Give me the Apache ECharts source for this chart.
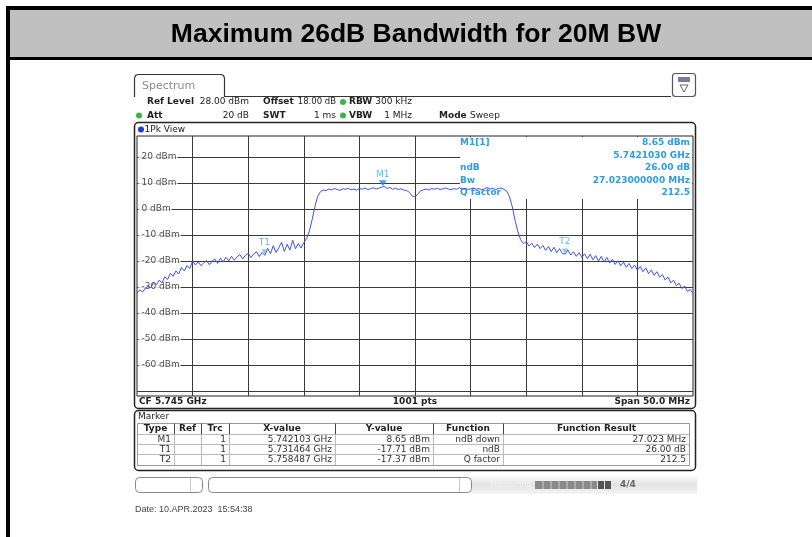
<!DOCTYPE html>
<html><head><meta charset="utf-8">
<script src="https://cdn.jsdelivr.net/npm/echarts@6/dist/echarts.min.js"></script>
<style>html,body{margin:0;padding:0;background:#fff;}#c{width:812px;height:537px;}</style>
</head><body><div id="c"></div>
<script>
// ---- data ----
const startMHz = 5720, stopMHz = 5770, stepMHz = 0.25;   // sweep: CF 5.745 GHz, span 50 MHz
const traceLevels = [
-32.4,-31.2,-32.0,-30.5,-29.8,-30.4,-28.3,-29.2,-27.4,-28.5,
-26.1,-27.2,-24.8,-26.0,-23.9,-25.1,-22.6,-23.9,-21.8,-23.0,
-20.1,-21.6,-20.4,-21.9,-20.8,-19.9,-21.5,-20.2,-19.3,-21.0,
-19.0,-20.4,-18.6,-20.0,-18.3,-19.8,-18.5,-17.6,-19.3,-17.9,
-17.1,-18.8,-17.3,-16.5,-18.4,-16.8,-17.9,-15.2,-17.3,-14.2,
-16.8,-15.0,-12.8,-16.4,-13.6,-15.9,-12.1,-15.4,-13.4,-15.1,
-13.0,-11.5,-8.6,-4.2,0.9,4.8,6.6,7.2,7.0,7.6,
7.3,7.8,7.4,7.1,7.7,7.5,7.9,7.3,7.6,7.2,
7.8,7.5,8.0,7.4,7.7,8.1,7.6,7.9,8.3,8.6,
7.8,8.2,7.5,7.9,7.4,7.7,7.2,7.0,6.3,4.9,
4.6,5.6,6.9,7.3,7.6,7.2,7.8,7.5,7.9,7.4,
7.7,8.0,7.6,7.3,7.8,7.5,8.1,7.6,7.9,7.4,
7.7,8.0,7.5,7.8,7.3,7.7,8.2,7.6,7.9,7.4,
7.8,8.0,7.5,6.8,4.6,0.7,-4.5,-8.8,-11.9,-13.4,
-12.6,-14.3,-13.2,-14.9,-13.6,-15.3,-14.1,-16.0,-14.5,-16.5,
-14.8,-16.9,-15.3,-17.2,-17.4,-15.8,-17.8,-16.5,-18.3,-16.9,
-18.7,-17.3,-19.2,-17.5,-19.6,-18.0,-20.1,-18.3,-20.5,-18.7,
-20.9,-19.4,-21.4,-20.0,-21.9,-20.5,-22.5,-21.0,-23.0,-21.6,
-23.6,-22.2,-24.2,-22.7,-24.9,-23.5,-25.6,-24.2,-26.3,-25.3,
-27.4,-26.2,-28.5,-27.4,-29.6,-28.6,-30.7,-29.7,-31.8,-31.0,
-32.6];
const refLevel = 28, bottomLevel = -72;
const gridLevels = [20,10,0,-10,-20,-30,-40,-50,-60,-70];
const gridFreqs = [5725,5730,5735,5740,5745,5750,5755,5760,5765];
const yLabelLevels = [20,10,0,-10,-20,-30,-40,-50,-60];
const yLabels = ['20 dBm','10 dBm','0 dBm','-10 dBm','-20 dBm','-30 dBm','-40 dBm','-50 dBm','-60 dBm'];
const markerNames = ['M1','T1','T2'];
const markerFreqMHz = [5742.103, 5731.464, 5758.487];
const markerLevels = [8.65, -17.71, -17.37];
const markerXText = ['5.742103 GHz','5.731464 GHz','5.758487 GHz'];
const markerYText = ['8.65 dBm','-17.71 dBm','-17.37 dBm'];
const markerFunc = ['ndB down','ndB','Q factor'];
const markerResult = ['27.023 MHz','26.00 dB','212.5'];
const infoLeft = ['M1[1]','','ndB','Bw','Q factor'];
const infoRight = ['8.65 dBm','5.7421030 GHz','26.00 dB','27.023000000 MHz','212.5'];

// ---- chart ----
const chart = echarts.init(document.getElementById('c'), null, {renderer:'canvas'});
const F = 'DejaVu Sans';
const G = [];
function txt(x,y,t,o){o=o||{};const a=o.a||'left';G.push({type:'text',z:o.z||3,zlevel:o.zl||0,style:{text:t,x:x,y:y,fill:o.c||'#222',
  font:(o.b?'bold ':'')+(o.s||9)+'px '+(o.f||F),textAlign:a,align:a,textVerticalAlign:'middle',verticalAlign:'middle'}});}
function rect(x,y,w,h,o){o=o||{};G.push({type:'rect',z:o.z||0,zlevel:o.zl||0,shape:{x:x,y:y,width:w,height:h,r:o.r||0},
  style:{fill:o.fill||'none',stroke:o.stroke||null,lineWidth:o.lw||1}});}
function line(x1,y1,x2,y2,o){o=o||{};G.push({type:'line',z:o.z||3,shape:{x1:x1,y1:y1,x2:x2,y2:y2},
  style:{stroke:o.c||'#222',lineWidth:o.lw||1}});}
function dot(x,y,r,c){G.push({type:'circle',z:3,shape:{cx:x,cy:y,r:r},style:{fill:c}});}

// page frame
rect(6,6,806,531,{fill:'#000'});
rect(10,10,802,47,{fill:'#c0c0c0'});
rect(10,60,802,477,{fill:'#fff'});
txt(416,35,'Maximum 26dB Bandwidth for 20M BW',{b:1,s:26.5,f:'Liberation Sans',c:'#000',a:'center'});
// spectrum tab
G.push({type:'polyline',z:3,shape:{points:[[134.5,97],[134.5,78],[135.5,75.5],[138,74.5],[221,74.5],[223.5,75.5],[224.5,78],[224.5,96.5],[671,96.5]]},style:{fill:null,stroke:'#333',lineWidth:1.2}});
txt(142,86,'Spectrum',{s:11,c:'#8a8a8a'});
rect(672.5,73.5,23,23,{r:3,stroke:'#555',lw:1.2,z:3});
rect(678,77,12,5,{fill:'#7a7a9a',z:3});
G.push({type:'polygon',z:3,shape:{points:[[680,85],[688,85],[684,92]]},style:{fill:'#fff',stroke:'#666',lineWidth:1}});
// header rows
txt(147,102,'Ref Level',{b:1});txt(249,102,'28.00 dBm',{a:'right'});
txt(263,102,'Offset',{b:1});txt(336,102,'18.00 dB',{a:'right',s:8.5});
dot(343,102,3,'#3cb44b');txt(349,102,'RBW',{b:1});txt(412,102,'300 kHz',{a:'right'});
dot(139,115.5,3,'#3cb44b');txt(147,115.5,'Att',{b:1});txt(249,115.5,'20 dB',{a:'right'});
txt(263,115.5,'SWT',{b:1});txt(336,115.5,'1 ms',{a:'right'});
dot(343,115.5,3,'#3cb44b');txt(349,115.5,'VBW',{b:1});txt(412,115.5,'1 MHz',{a:'right'});
txt(439,115.5,'Mode',{b:1});txt(470,115.5,'Sweep');
// 1Pk view box
rect(134.5,122.5,561,286,{r:4,stroke:'#222',lw:1.5,z:3});
dot(141,129.5,3,'#1a3ccc');txt(144.5,129.5,'1Pk View');
txt(139,402,'CF 5.745 GHz',{b:1});txt(415,402,'1001 pts',{b:1,a:'center'});txt(690,402,'Span 50.0 MHz',{b:1,a:'right'});
// info box (covers grid) on its own layer
rect(460,137,232,62,{fill:'#fff',zl:1});
const infoC = '#2c9ce6';
infoLeft.forEach((t,i)=>{ if(t) txt(460,143+i*12.4,t,{b:1,c:infoC,zl:1}); });
infoRight.forEach((t,i)=>{ txt(690,143+i*12.4,t,{b:1,c:infoC,a:'right',zl:1}); });
// marker table
rect(134.5,410.5,561,60,{r:4,stroke:'#222',lw:1.5,z:3});
txt(138,416.5,'Marker',{b:0});
const colX = [137,174,201,229,335,433,503,690];
rect(137.5,423.5,552,42,{stroke:'#999',z:3});
[434.5,444.5,454.5].forEach(y=>line(137.5,y,689.5,y,{c:'#bbb'}));
colX.slice(1,7).forEach(x=>{line(x+0.5,423.5,x+0.5,434.5,{c:'#444'});line(x+0.5,434.5,x+0.5,465.5,{c:'#bbb'});});
const heads = ['Type','Ref','Trc','X-value','Y-value','Function','Function Result'];
heads.forEach((h,i)=>txt((colX[i]+colX[i+1])/2,429,h,{b:1,a:'center'}));
markerNames.forEach((m,i)=>{
  const y = 439.5+i*10;
  txt(171,y,m,{a:'right',c:'#333'});
  txt(226,y,'1',{a:'right',c:'#333'});
  txt(332,y,markerXText[i],{a:'right',c:'#333'});
  txt(430,y,markerYText[i],{a:'right',c:'#333'});
  txt(500,y,markerFunc[i],{a:'right',c:'#333'});
  txt(686,y,markerResult[i],{a:'right',c:'#333'});
});
// status bar
G.push({type:'rect',z:1,shape:{x:472,y:475,width:225,height:19},style:{fill:new echarts.graphic.LinearGradient(0,0,0,1,[{offset:0,color:'#ffffff'},{offset:0.5,color:'#e2e2e2'},{offset:1,color:'#f4f4f4'}])}});
rect(135.5,477.5,67,15,{r:4,stroke:'#888',z:3});line(190.5,478,190.5,492,{c:'#ccc'});
rect(208.5,477.5,263,15,{r:4,stroke:'#888',z:3});line(459.5,478,459.5,492,{c:'#ccc'});
txt(490,485,'Measuring...',{c:'#f2f2f2',s:8});
rect(535,481,62,8,{fill:'#8a8a8a',z:3});
[543,551,559,567,575,583,591].forEach(x=>line(x,481,x,489,{c:'#c8c8c8'}));
rect(598,481,6,8,{fill:'#555',z:3});rect(605,481,6,8,{fill:'#555',z:3});
txt(620,485,'4/4',{b:1,c:'#666',s:9});
txt(135,510,'Date: 10.APR.2023  15:54:38',{f:'Liberation Sans',c:'#444',s:9});

const traceData = traceLevels.map((v,i)=>[startMHz + i*stepMHz, v]);
const option = {
  animation:false,
  grid:{left:137,top:136,width:556,height:260,show:true,borderColor:'#222',borderWidth:1,backgroundColor:'transparent',z:1},
  xAxis:{type:'value',min:startMHz,max:stopMHz,axisLine:{show:false},axisTick:{show:false},axisLabel:{show:false},splitLine:{show:false}},
  yAxis:{type:'value',min:bottomLevel,max:refLevel,axisLine:{show:false},axisTick:{show:false},axisLabel:{show:false},splitLine:{show:false}},
  graphic:{elements:G},
  series:[
    {type:'line',z:1,data:[],silent:true,
     markLine:{silent:true,symbol:['none','none'],animation:false,label:{show:false},
       lineStyle:{color:'#3a3a3a',width:1,type:'solid'},
       data:gridLevels.map(v=>({yAxis:v})).concat(gridFreqs.map(f=>({xAxis:f})))}},
    {type:'scatter',zlevel:1,z:3,silent:true,symbolSize:1,itemStyle:{color:'rgba(0,0,0,0)'},
     data:yLabelLevels.map(v=>[startMHz,v]),
     label:{show:true,position:'right',distance:1,formatter:p=>yLabels[p.dataIndex],
       color:'#222',fontSize:9,fontFamily:F,backgroundColor:'#fff',padding:[1,1,0,3]}},
    {type:'line',zlevel:2,z:5,data:traceData,showSymbol:false,symbol:'none',
     lineStyle:{color:'#3d50f2',width:1},clip:true},
    {type:'scatter',zlevel:2,z:6,silent:true,
     data:markerNames.map((n,i)=>({value:[markerFreqMHz[i],markerLevels[i]],
        symbol:'triangle',symbolRotate:180,symbolSize:i===0?[8,6]:[6,5],symbolOffset:[0,-3],
        itemStyle:{color:i===0?'#1d8fe0':'#6bbcf0'},
        label:{show:true,position:'top',distance:i===0?1:2,formatter:n,color:'#3aa6ee',fontSize:9,fontFamily:F}}))}
  ]
};
chart.setOption(option);
</script></body></html>
